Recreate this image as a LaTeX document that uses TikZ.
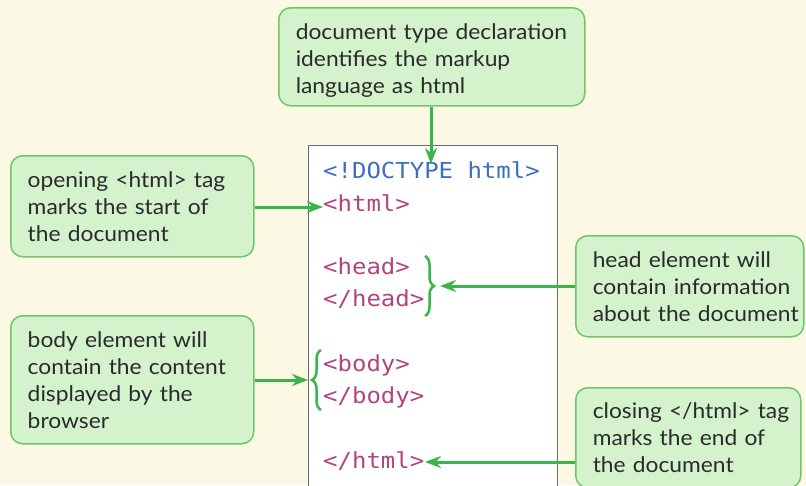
\documentclass[tikz,border=0pt]{standalone}
\usepackage{fontspec}
\setmainfont{Lato}[FakeStretch=1.06]
\setmonofont{DejaVu Sans Mono}[FakeStretch=1.09]
\usetikzlibrary{arrows.meta,decorations.pathreplacing}
\definecolor{bg}{HTML}{FBF8E4}
\definecolor{boxfill}{HTML}{D4F3CD}
\definecolor{boxline}{HTML}{72C66A}
\definecolor{arrowgreen}{HTML}{3AB54A}
\definecolor{codeblue}{HTML}{3F6DC2}
\definecolor{codetag}{HTML}{B0457F}
\definecolor{codeframe}{HTML}{6A6A6A}
\definecolor{txt}{HTML}{2A2A2A}
\begin{document}
\begin{tikzpicture}[x=1pt,y=-1pt,
  callout/.style={draw=boxline, fill=boxfill, line width=1.5pt, rounded corners=12pt,
    anchor=north west, inner xsep=0pt, inner ysep=0pt, align=left, text=txt,
    font=\fontsize{21.5}{27}\selectfont, execute at begin node={\leftskip=17pt\relax}},
  codeline/.style={anchor=west, inner sep=0pt, font=\ttfamily\fontsize{22}{26}\selectfont,
    text height=16pt, text depth=4pt},
  arr/.style={draw=arrowgreen, line width=3pt, -{Stealth[length=16pt,width=12pt]}},
  bracestyle/.style={draw=arrowgreen, line width=2.5pt, decorate,
    decoration={brace, amplitude=9pt}}
]
\useasboundingbox (0,0) rectangle (806,485);
\fill[bg] (0,0) rectangle (806,485);

% code box
\draw[codeframe, fill=white, line width=1pt] (308,145) rectangle (557,500);
\node[codeline, text=codeblue] (doctype) at (323,172) {<!DOCTYPE html>};
\node[codeline, text=codetag] (htmlopen) at (323,205) {<html>};
\node[codeline, text=codetag] (headopen) at (323,268) {<head>};
\node[codeline, text=codetag] (headclose) at (323,300) {</head>};
\node[codeline, text=codetag] (bodyopen) at (323,365) {<body>};
\node[codeline, text=codetag] (bodyclose) at (323,397) {</body>};
\node[codeline, text=codetag] (htmlclose) at (323,462) {</html>};

% braces
\coordinate (hb1) at (425,256);
\coordinate (hb2) at (425,316);
\draw[bracestyle] (hb1) -- (hb2);
\coordinate (bb1) at (321,410);
\coordinate (bb2) at (321,350);
\draw[bracestyle] (bb1) -- (bb2);

% callouts
\node[callout, text width=306pt, minimum height=98pt] (top) at (278,7)
  {\rule{0pt}{23pt}document type declaration\\identifies the markup\\language as html};
\node[callout, text width=243pt, minimum height=101pt] (open) at (10,155)
  {opening <html> tag\\marks the start of\\the document};
\node[callout, text width=243pt, minimum height=128pt] (body) at (10,315)
  {body element will\\contain the content\\displayed by the\\browser};
\node[callout, text width=228pt, minimum height=101pt] (head) at (575,235)
  {head element will\\contain information\\about the document};
\node[callout, text width=225pt, minimum height=100pt] (close) at (575,387)
  {closing </html> tag\\marks the end of\\the document};

% arrow tips
\coordinate (tTop) at (431,164);
\coordinate (tOpen) at (323,207);
\coordinate (tHead) at (440,286);
\coordinate (tBody) at (308,380);
\coordinate (tClose) at (425,462);

\draw[arr] (top.south -| tTop) -- (tTop);
\draw[arr] (open.east |- tOpen) -- (tOpen);
\draw[arr] (head.west |- tHead) -- (tHead);
\draw[arr] (body.east |- tBody) -- (tBody);
\draw[arr] (close.west |- tClose) -- (tClose);
\end{tikzpicture}
\end{document}
